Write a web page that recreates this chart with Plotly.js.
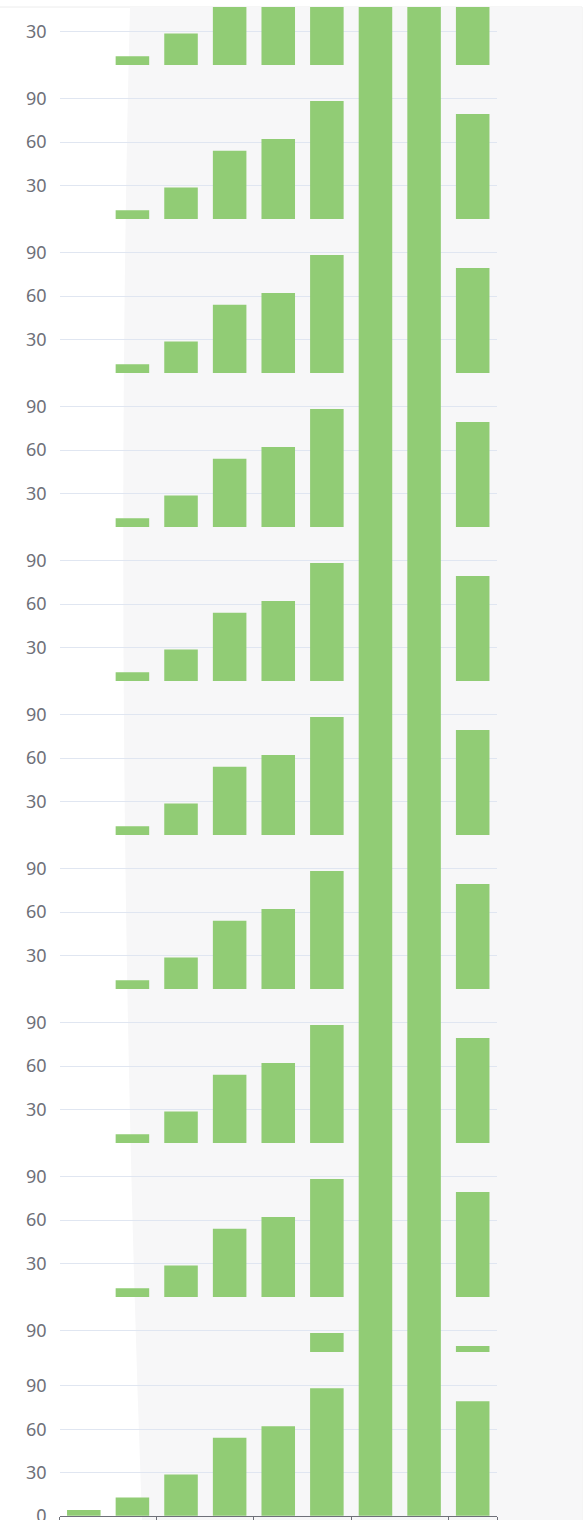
<!DOCTYPE html>
<html>
<head>
<meta charset="utf-8">
<script src="https://cdn.plot.ly/plotly-3.0.1.min.js"></script>
<style>html,body{margin:0;padding:0;background:#fff;}#chart{width:587px;height:1520px;}</style>
</head>
<body>
<div id="chart"></div>
<script>
// ---- data ----
const categories = ['C1', 'C2', 'C3', 'C4', 'C5', 'C6', 'C7', 'C8', 'C9'];
const values = [4, 12.7, 28.5, 54, 62, 88.4, 150, 150, 79.4];
const yTickVals = [0, 30, 60, 90];
const xTickBoundaries = [-0.5, 1.5, 3.5, 5.5, 7.5, 8.5];

// ---- layout geometry (pixels) ----
const W = 587, H = 1520;
const PXU = 1.442;             // pixels per value unit
const VLO = 6.6;               // value at bottom of each repeated band
const BAND = 154;              // band height in px
const FIRST = 65;              // bottom pixel of band 0
const xL = 59.5, xR = 497;

function py(y) { return (H - y) / H; }
function px(x) { return x / W; }

const panels = [];
// main panel first (primary y axis, carries the x axis)
panels.push({ top: 1352, bottom: 1516, lo: -0.2, hi: (1516 - 1352) / PXU - 0.2 });
// band 0 (partial top)
panels.push({ top: 7, bottom: FIRST, lo: VLO, hi: VLO + (FIRST - 7) / PXU });
// bands 1..8
for (let j = 1; j <= 8; j++) {
  panels.push({ top: FIRST + BAND * (j - 1), bottom: FIRST + BAND * j, lo: VLO, hi: VLO + BAND / PXU });
}
// band 9 (partial, cut by the main panel)
{
  const top = FIRST + BAND * 8, bottom = 1352;
  const hi = VLO + BAND / PXU;
  panels.push({ top: top, bottom: bottom, lo: hi - (bottom - top) / PXU, hi: hi });
}

const font = { family: 'Noto Sans, DejaVu Sans, sans-serif', size: 18, color: '#6E7079' };

const data = [];
const layout = {
  width: W, height: H,
  margin: { l: 0, r: 0, t: 0, b: 0 },
  paper_bgcolor: '#ffffff',
  plot_bgcolor: 'rgba(0,0,0,0)',
  showlegend: false,
  barmode: 'overlay',
  bargap: 0.31,
  xaxis: {
    type: 'category', domain: [px(xL), px(xR)], anchor: 'y',
    showline: true, linecolor: '#6E7079', linewidth: 1,
    ticks: '', showticklabels: false, showgrid: false, zeroline: false, fixedrange: true
  },
  xaxis2: {
    type: 'linear', overlaying: 'x', anchor: 'y', domain: [px(xL), px(xR)],
    range: [-0.5, 8.5], tickmode: 'array', tickvals: xTickBoundaries,
    ticks: 'outside', ticklen: 6, tickcolor: '#6E7079', tickwidth: 1,
    showticklabels: false, showgrid: false, zeroline: false, showline: false, fixedrange: true
  },
  shapes: [
    { type: 'rect', xref: 'paper', yref: 'paper', x0: px(-2), x1: px(582), y0: py(1522), y1: py(7),
      fillcolor: '#ffffff', line: { color: '#ececec', width: 1 }, layer: 'below' },
    { type: 'path', xref: 'paper', yref: 'paper', layer: 'below',
      path: 'M ' + px(130) + ' ' + py(7) + ' Q ' + px(112) + ' ' + py(700) + ' ' + px(142) + ' ' + py(1520) +
            ' L ' + px(581.5) + ' ' + py(1520) + ' L ' + px(581.5) + ' ' + py(7) + ' Z',
      fillcolor: '#f7f7f8', line: { width: 0 } }
  ]
};

panels.forEach(function (p, i) {
  const id = i === 0 ? '' : String(i + 1);
  const key = 'yaxis' + id;
  layout[key] = {
    domain: [py(p.bottom), py(p.top)],
    range: [p.lo, p.hi],
    anchor: 'x',
    tickmode: 'array', tickvals: yTickVals,
    showgrid: true, gridcolor: '#E0E6F1', gridwidth: 1,
    zeroline: false, showline: false, ticks: '',
    tickfont: font, ticklabelstandoff: 12, ticklabeloverflow: 'allow', fixedrange: true
  };
  data.push({
    type: 'bar', x: categories, y: values,
    xaxis: 'x', yaxis: 'y' + id,
    marker: { color: '#91CC75', line: { width: 0 } },
    hoverinfo: 'skip'
  });
});

// empty carrier trace so the tick-only overlay axis is drawn
data.push({
  type: 'scatter', mode: 'markers', x: xTickBoundaries, y: xTickBoundaries.map(function () { return null; }),
  xaxis: 'x2', yaxis: 'y', hoverinfo: 'skip', showlegend: false
});

Plotly.newPlot('chart', data, layout, { staticPlot: true, displayModeBar: false });
</script>
</body>
</html>
